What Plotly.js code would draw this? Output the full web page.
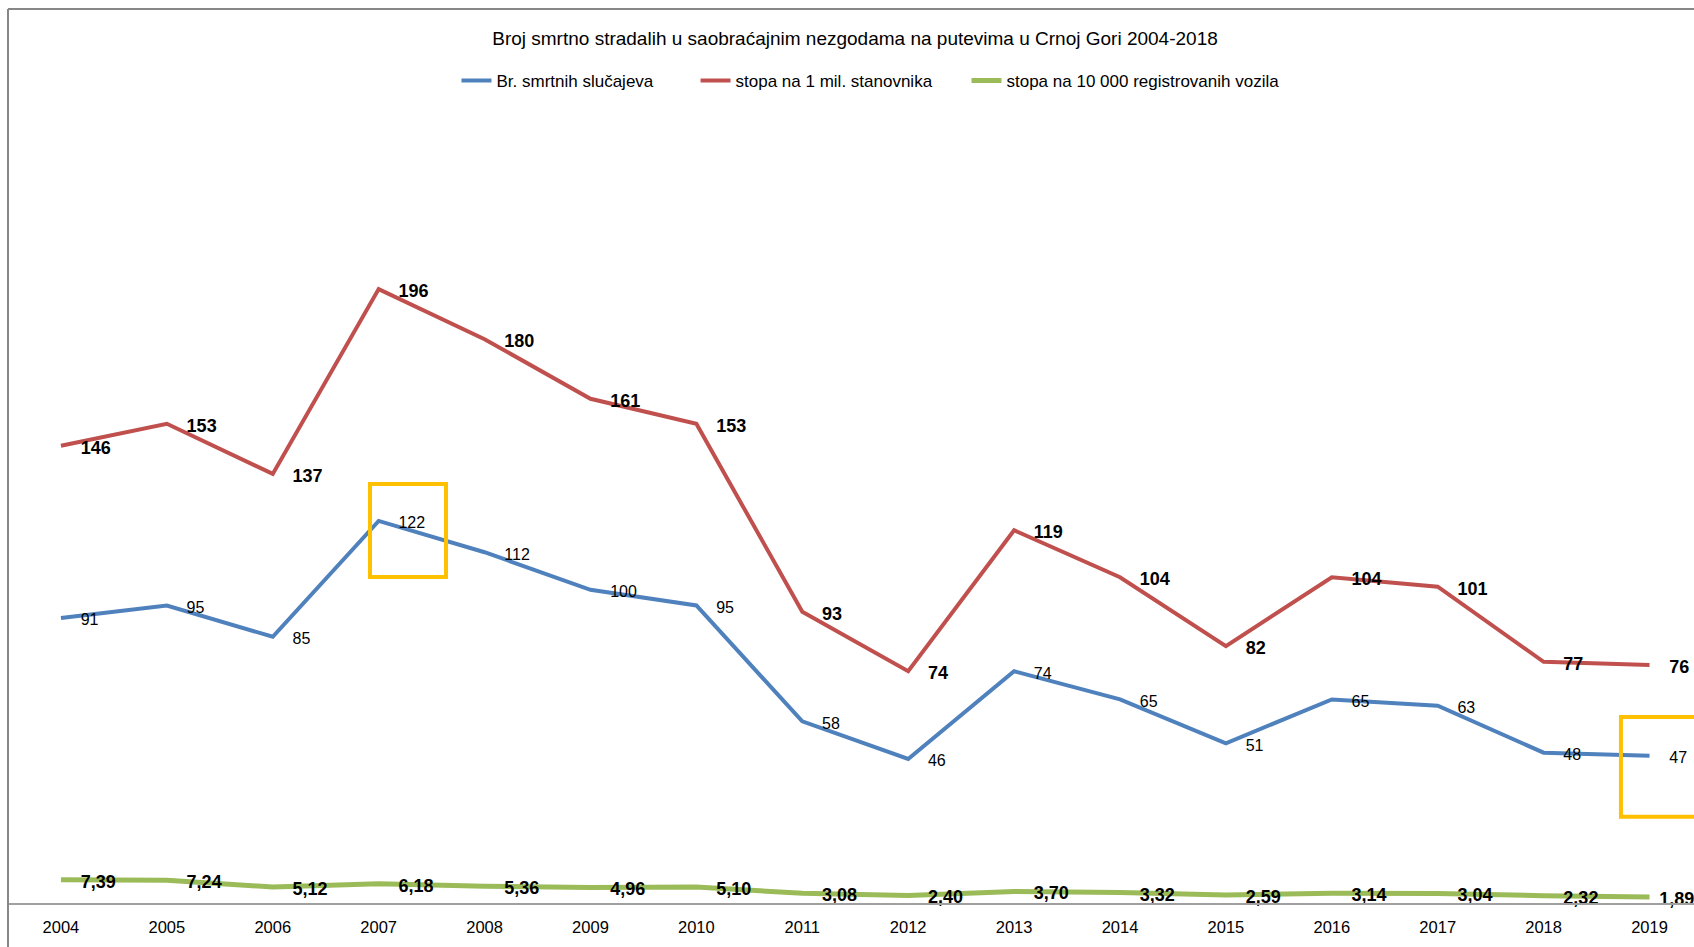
<!DOCTYPE html>
<html>
<head>
<meta charset="utf-8">
<script src="https://cdn.plot.ly/plotly-3.0.1.min.js"></script>
<style>
  html, body { margin: 0; padding: 0; background: #fff; overflow: hidden; }
  #chart { width: 1694px; height: 947px; }
</style>
</head>
<body>
<div id="chart"></div>
<script>
// ---- data ----
const years = ['2004','2005','2006','2007','2008','2009','2010','2011','2012','2013','2014','2015','2016','2017','2018','2019'];
const deaths = [91, 95, 85, 122, 112, 100, 95, 58, 46, 74, 65, 51, 65, 63, 48, 47];
const ratePerMillion = [146, 153, 137, 196, 180, 161, 153, 93, 74, 119, 104, 82, 104, 101, 77, 76];
const ratePerVehicles = [7.39, 7.24, 5.12, 6.18, 5.36, 4.96, 5.10, 3.08, 2.40, 3.70, 3.32, 2.59, 3.14, 3.04, 2.32, 1.89];
const seriesNames = ['Br. smrtnih slučajeva', 'stopa na 1 mil. stanovnika', 'stopa na 10 000 registrovanih vozila'];
const chartTitle = 'Broj smrtno stradalih u saobraćajnim nezgodama na putevima u Crnoj Gori 2004-2018';

const FONT = '"Liberation Sans", Arial, sans-serif';

function lineTrace(y, name, color, width, legendId) {
  return {
    x: years, y: y, name: name, type: 'scatter', mode: 'lines',
    line: { color: color, width: width },
    legend: legendId,
    hoverinfo: 'x+y+name'
  };
}
// invisible markers set the gap between each point and its label
function labelTrace(y, name, labelSize, bold, fmt, lastGap) {
  const sizes = y.map((v, i) => (i === y.length - 1 && lastGap) ? lastGap : 30);
  return {
    x: years, y: y, name: name, type: 'scatter', yaxis: 'y2',
    mode: 'markers+text', showlegend: false,
    marker: { size: sizes, opacity: 0, color: '#000' },
    texttemplate: fmt,
    textposition: 'middle right',
    textfont: { family: FONT, size: labelSize, color: '#000', weight: bold ? 'bold' : 'normal' },
    cliponaxis: false,
    hoverinfo: 'skip'
  };
}

const traces = [
  lineTrace(deaths, seriesNames[0], '#4F81BD', 4, 'legend'),
  lineTrace(ratePerMillion, seriesNames[1], '#C0504D', 4, 'legend2'),
  lineTrace(ratePerVehicles, seriesNames[2], '#9BBB59', 5, 'legend3'),
  labelTrace(deaths, seriesNames[0], 16, false, '%{y}'),
  labelTrace(ratePerMillion, seriesNames[1], 18, true, '%{y}'),
  labelTrace(ratePerVehicles, seriesNames[2], 18, true, '%{y:.2f}', 14)
];

function legendAt(xPaper) {
  return {
    orientation: 'h', x: xPaper, xanchor: 'left',
    y: 1.0498, yanchor: 'middle',
    font: { family: FONT, size: 17, color: '#000' },
    bgcolor: 'rgba(0,0,0,0)', borderwidth: 0
  };
}

const layout = {
  width: 1694, height: 947,
  margin: { l: 8, r: 0, t: 120, b: 44 },
  paper_bgcolor: '#fff', plot_bgcolor: '#fff',
  separators: ',.',
  font: { family: FONT, size: 17, color: '#000' },
  title: {
    text: chartTitle,
    font: { family: FONT, size: 19, color: '#000' },
    x: 855 / 1694, xref: 'container', xanchor: 'center',
    y: 1 - 38 / 947, yref: 'container', yanchor: 'middle'
  },
  showlegend: true,
  legend: legendAt(0.2660),
  legend2: legendAt(0.4078),
  legend3: legendAt(0.5685),
  xaxis: {
    type: 'category',
    range: [-0.5, 15.42],
    showgrid: false, zeroline: false,
    showline: true, linecolor: '#A0A0A0', linewidth: 2,
    ticks: '', ticklabelstandoff: 8,
    tickfont: { family: FONT, size: 16.5, color: '#000' },
    automargin: false, fixedrange: true
  },
  yaxis: {
    range: [0, 250],
    showgrid: false, zeroline: false, showline: false,
    showticklabels: false, ticks: '',
    automargin: false, fixedrange: true
  },
  yaxis2: {
    overlaying: 'y', range: [1.1, 251.1], visible: false,
    showgrid: false, zeroline: false, automargin: false, fixedrange: true
  },
  shapes: [
    // chart-area border (left and top)
    { type: 'line', xref: 'paper', yref: 'paper', x0: 0, x1: 0, y0: -0.06, y1: (903 - 9) / 783,
      line: { color: '#878787', width: 2 } },
    { type: 'line', xref: 'paper', yref: 'paper', x0: 0, x1: 1.01, y0: (903 - 9) / 783, y1: (903 - 9) / 783,
      line: { color: '#878787', width: 2 } },
    // highlight boxes
    { type: 'rect', xref: 'x', yref: 'y', x0: 2.918, x1: 3.636, y0: 104.1, y1: 133.8,
      line: { color: '#FFC000', width: 4 }, fillcolor: 'rgba(0,0,0,0)' },
    { type: 'rect', xref: 'x', yref: 'y', x0: 14.73, x1: 15.6, y0: 27.5, y1: 59.4,
      line: { color: '#FFC000', width: 4 }, fillcolor: 'rgba(0,0,0,0)' }
  ]
};

Plotly.newPlot('chart', traces, layout, { displayModeBar: false, staticPlot: true });
</script>
</body>
</html>
